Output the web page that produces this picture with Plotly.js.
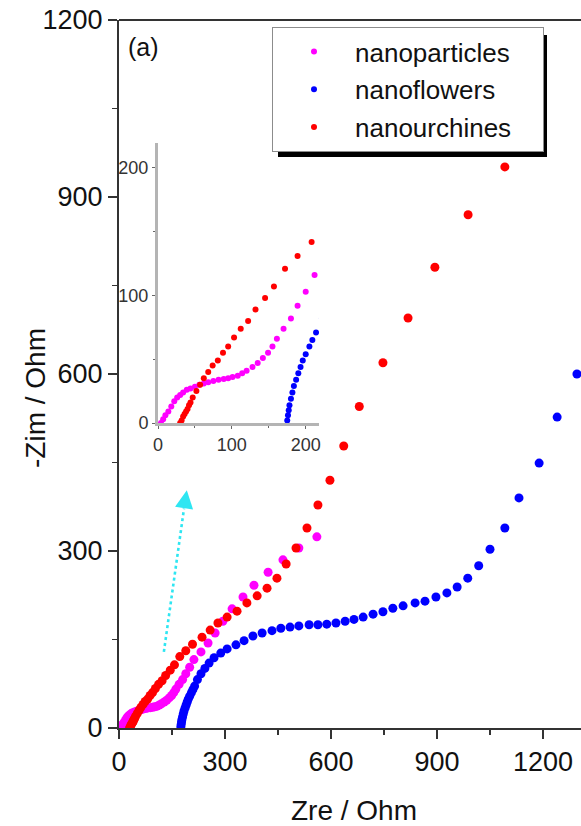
<!DOCTYPE html>
<html>
<head>
<meta charset="utf-8">
<script src="https://cdn.plot.ly/plotly-3.0.1.min.js"></script>
<style>html,body{margin:0;padding:0;background:#fff;}#chart{width:581px;height:826px;}</style>
</head>
<body>
<div id="chart"></div>
<script>
// Series names
const seriesNames = ["nanoparticles", "nanoflowers", "nanourchines"];
const seriesColors = ["#ff00ff", "#0000ff", "#ff0000"];

// nanoparticles (Zre, -Zim) in Ohm
const xNanoparticles = [4, 7, 10, 14, 18, 22, 26, 30, 34, 39, 44, 50, 56, 62, 68, 75, 82, 89, 95, 101, 108, 114, 120, 128, 135, 142, 149, 155, 161, 170, 180, 189, 200, 212, 232, 252, 272, 294, 320, 351, 382, 422, 464, 509, 560];
const yNanoparticles = [0, 3, 6, 9, 13, 17, 20, 22, 24, 26, 27, 28.5, 30, 31, 32, 33, 34, 34.5, 35, 36, 37, 39, 41, 44, 47, 51, 55, 60, 66, 74, 82, 92, 103, 116, 129, 144, 161, 181, 202, 222, 242, 264, 285, 305, 324];

// nanoflowers
const xNanoflowers = [175, 176, 177, 178, 180, 182, 184, 187, 190, 193, 196, 200, 205, 209, 214, 222, 232, 243, 255, 269, 288, 306, 331, 354, 379, 405, 433, 458, 484, 509, 538, 563, 588, 614, 640, 665, 691, 719, 747, 775, 804, 838, 866, 897, 928, 957, 987, 1018, 1050, 1092, 1132, 1189, 1240, 1296];
const yNanoflowers = [2, 6, 10, 14, 19, 24, 29, 34, 39, 44, 49, 54, 60, 65, 71, 82, 92, 101, 110, 119, 127, 134, 141, 148, 156, 161, 165, 169, 171, 173, 175, 175, 176, 178, 181, 184, 188, 193, 197, 203, 207, 212, 215, 222, 229, 239, 254, 275, 303, 339, 390, 449, 527, 600];

// nanourchines
const xNanourchines = [30, 32, 34, 36, 38, 40, 42, 44, 47, 52, 57, 62, 68, 74, 81, 88, 95, 103, 112, 122, 132, 145, 157, 172, 189, 208, 235, 258, 280, 306, 334, 362, 391, 419, 447, 473, 501, 532, 563, 597, 636, 680, 747, 818, 894, 988, 1092];
const yNanourchines = [0, 2, 5, 7, 9, 11, 14, 16, 20, 25, 30, 35, 40, 45, 49, 55, 60, 67, 74, 80, 89, 98, 107, 121, 131, 142, 154, 166, 178, 188, 198, 212, 224, 237, 254, 278, 305, 339, 378, 420, 478, 545, 619, 695, 781, 870, 951];

// Tick values
const mainXTicks = [0, 300, 600, 900, 1200];
const mainYTicks = [0, 300, 600, 900, 1200];
const insetTicks = [0, 100, 200];

// Arrow (data coords of main axes): tail, end of dotted shaft, tip
const arrowTail = [127, 129];
const arrowShaftEnd = [184, 372];
const arrowTip = [192, 403];

const FONT = "Liberation Sans, Arial, sans-serif";
const xs = [xNanoparticles, xNanoflowers, xNanourchines];
const ys = [yNanoparticles, yNanoflowers, yNanourchines];
const PAD = "\u00a0\u00a0\u00a0\u2009";

const traces = [];
// main plot traces
for (let i = 0; i < 3; i++) {
  traces.push({
    x: xs[i], y: ys[i], type: "scatter", mode: "markers",
    name: seriesNames[i], showlegend: false,
    marker: {color: seriesColors[i], size: 9, line: {width: 0}},
    xaxis: "x", yaxis: "y", cliponaxis: true
  });
}
// inset traces (also carry the legend)
for (let i = 0; i < 3; i++) {
  traces.push({
    x: xs[i], y: ys[i], type: "scatter", mode: "markers",
    name: seriesNames[i] + PAD, showlegend: true, legendgroup: "g" + i,
    marker: {color: seriesColors[i], size: 6, line: {width: 0}},
    xaxis: "x2", yaxis: "y2", cliponaxis: true
  });
}

const W = 581, H = 826, mL = 119, mR = 0, mT = 20, mB = 98;
const pw = W - mL - mR, ph = H - mT - mB;
const px = v => (v - mL) / pw;
const py = v => (H - mB - v) / ph;

const layout = {
  width: W, height: H,
  margin: {l: mL, r: mR, t: mT, b: mB, pad: 0},
  paper_bgcolor: "#fff", plot_bgcolor: "rgba(0,0,0,0)",
  font: {family: FONT, color: "#1a1a1a"},
  showlegend: true,
  legend: {
    x: px(272), y: py(27), xanchor: "left", yanchor: "top",
    bgcolor: "#fff", bordercolor: "#8c8c8c", borderwidth: 1,
    font: {family: FONT, size: 26, color: "#111"},
    tracegroupgap: 1, itemwidth: 72
  },
  xaxis: {
    range: [0, 1307.5], tickvals: mainXTicks, ticktext: mainXTicks.map(String),
    ticks: "outside", ticklen: 9, tickwidth: 1.6, tickcolor: "#333",
    showline: true, linecolor: "#333", linewidth: 2,
    showgrid: false, zeroline: false,
    tickfont: {family: FONT, size: 27, color: "#111"},
    minor: {tickvals: [150, 450, 750, 1050], ticks: "outside", ticklen: 5, tickwidth: 1.4, tickcolor: "#333", showgrid: false},
    domain: [0, 1], anchor: "y", fixedrange: true
  },
  yaxis: {
    range: [0, 1200], tickvals: mainYTicks, ticktext: mainYTicks.map(String),
    ticks: "outside", ticklen: 9, tickwidth: 1.6, tickcolor: "#333",
    showline: true, linecolor: "#333", linewidth: 2,
    showgrid: false, zeroline: false,
    tickfont: {family: FONT, size: 27, color: "#111"},
    minor: {tickvals: [150, 450, 750, 1050], ticks: "outside", ticklen: 5, tickwidth: 1.4, tickcolor: "#333", showgrid: false},
    domain: [0, 1], anchor: "x", fixedrange: true
  },
  xaxis2: {
    range: [0, 218], tickvals: insetTicks, ticktext: insetTicks.map(String),
    ticks: "outside", ticklen: 3, tickwidth: 1, tickcolor: "#666",
    showline: true, linecolor: "#b4b4b4", linewidth: 3,
    showgrid: false, zeroline: false,
    tickfont: {family: FONT, size: 18, color: "#333"},
    minor: {tickvals: [50, 150], ticks: "outside", ticklen: 2, tickwidth: 1, tickcolor: "#666"},
    domain: [px(158), px(319)], anchor: "y2", fixedrange: true
  },
  yaxis2: {
    range: [0, 219.6], tickvals: insetTicks, ticktext: insetTicks.map(String),
    ticks: "outside", ticklen: 3, tickwidth: 1, tickcolor: "#666",
    showline: true, linecolor: "#b4b4b4", linewidth: 3,
    showgrid: false, zeroline: false,
    tickfont: {family: FONT, size: 18, color: "#333"},
    minor: {tickvals: [50, 150], ticks: "outside", ticklen: 2, tickwidth: 1, tickcolor: "#666"},
    domain: [py(423), py(143)], anchor: "x2", fixedrange: true
  },
  shapes: [
    // top frame line
    {type: "line", xref: "paper", yref: "paper", x0: 0, x1: 1, y0: 1, y1: 1, line: {color: "#333", width: 2}},
    // legend shadow
    {type: "rect", xref: "paper", yref: "paper", x0: px(278), x1: px(547), y0: py(157), y1: py(35),
     fillcolor: "#000", line: {width: 0}, layer: "above"},
    // dotted arrow shaft
    {type: "line", xref: "x", yref: "y", x0: arrowTail[0], y0: arrowTail[1], x1: arrowShaftEnd[0], y1: arrowShaftEnd[1],
     line: {color: "#2ee6f2", width: 2.6, dash: "dot"}}
  ],
  annotations: [
    {text: "(a)", xref: "paper", yref: "paper", x: px(126), y: py(47), xanchor: "left", yanchor: "middle",
     showarrow: false, font: {family: FONT, size: 25, color: "#111"}},
    {text: "-Zim / Ohm", xref: "paper", yref: "paper", x: px(35), y: py(398), xanchor: "center", yanchor: "middle",
     textangle: -90, showarrow: false, font: {family: FONT, size: 28, color: "#111"}},
    {text: "Zre / Ohm", xref: "paper", yref: "paper", x: px(354), y: py(810), xanchor: "center", yanchor: "middle",
     showarrow: false, font: {family: FONT, size: 28, color: "#111"}},
    {text: "", xref: "x", yref: "y", x: arrowTip[0], y: arrowTip[1], axref: "x", ayref: "y",
     ax: arrowShaftEnd[0], ay: arrowShaftEnd[1], showarrow: true, arrowhead: 2, arrowsize: 1.4, arrowwidth: 2.6,
     arrowcolor: "#2ee6f2", standoff: 0, startstandoff: 0}
  ]
};

Plotly.newPlot("chart", traces, layout, {staticPlot: true, displayModeBar: false});
</script>
</body>
</html>
